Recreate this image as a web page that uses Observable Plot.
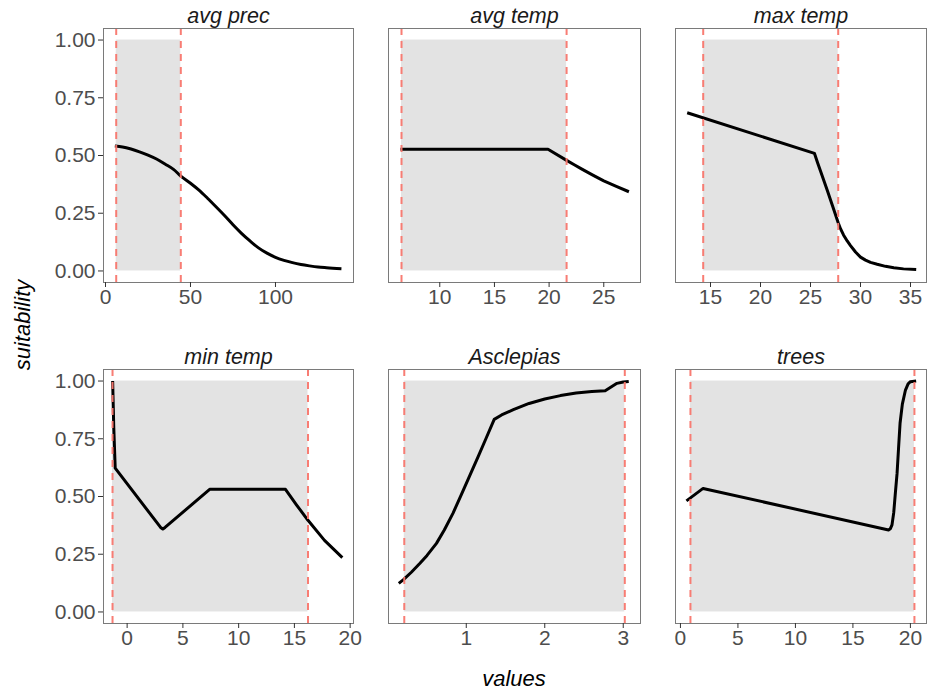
<!DOCTYPE html>
<html>
<head>
<meta charset="utf-8">
<script src="https://cdn.jsdelivr.net/npm/d3@7"></script>
<script src="https://cdn.jsdelivr.net/npm/@observablehq/plot@0.6"></script>
<style>
  html, body { margin: 0; padding: 0; background: #fff; }
  #root { position: relative; width: 927px; height: 696px; overflow: hidden; background: #fff;
          font-family: "Liberation Sans", Arial, Helvetica, sans-serif; }
  .panel { position: absolute; }
  .panel svg { overflow: visible; max-width: none !important; }
  .axtitle { position: absolute; font-style: italic; font-size: 22px; line-height: 22px; color: #000; white-space: nowrap; }
</style>
</head>
<body>
<div id="root"></div>
<script>
// ---------------- data ----------------
const panelTitles = ["avg prec", "avg temp", "max temp", "min temp", "Asclepias", "trees"];

const avgPrecX = [5.5, 10, 15, 20, 25, 30, 35, 40, 44.3, 50, 55, 60, 65, 70, 75, 80, 85, 90, 95, 100, 105, 110, 115, 120, 125, 130, 138.8];
const avgPrecY = [0.541, 0.537, 0.528, 0.516, 0.502, 0.485, 0.463, 0.44, 0.411, 0.38, 0.35, 0.315, 0.278, 0.24, 0.2, 0.163, 0.13, 0.1, 0.077, 0.059, 0.046, 0.036, 0.028, 0.022, 0.017, 0.014, 0.01];

const avgTempX = [6.4, 19.9, 21.6, 22.3, 23, 24, 25, 26.2, 27.3];
const avgTempY = [0.527, 0.527, 0.479, 0.46, 0.441, 0.415, 0.39, 0.365, 0.343];

const maxTempX = [12.67, 25.4, 25.7, 26.0, 26.7, 27.2, 27.77, 28.0, 28.3, 28.67, 29, 29.5, 30, 30.5, 31, 31.67, 32.5, 33.33, 34.3, 35.57];
const maxTempY = [0.685, 0.509, 0.47, 0.433, 0.346, 0.282, 0.209, 0.183, 0.156, 0.13, 0.11, 0.082, 0.06, 0.047, 0.037, 0.029, 0.02, 0.014, 0.009, 0.006];

const minTempX = [-1.3, -1.2, -1.07, 3.0, 3.2, 3.4, 7.4, 14.2, 15.2, 16.2, 17.7, 19.3];
const minTempY = [1.0, 0.8, 0.623, 0.366, 0.359, 0.366, 0.531, 0.531, 0.463, 0.398, 0.31, 0.235];

const asclepiasX = [0.14, 0.2, 0.3, 0.41, 0.5, 0.62, 0.72, 0.83, 0.94, 1.05, 1.15, 1.25, 1.356, 1.45, 1.6, 1.8, 2.0, 2.2, 2.4, 2.6, 2.77, 2.85, 2.92, 3.0, 3.07];
const asclepiasY = [0.124, 0.14, 0.172, 0.211, 0.245, 0.297, 0.355, 0.427, 0.51, 0.595, 0.672, 0.75, 0.834, 0.853, 0.876, 0.903, 0.922, 0.937, 0.948, 0.955, 0.958, 0.975, 0.99, 0.996, 0.998];

const treesX = [0.52, 1.97, 18.1, 18.25, 18.4, 18.55, 18.7, 18.84, 18.97, 19.1, 19.3, 19.57, 19.8, 20.0, 20.5];
const treesY = [0.481, 0.535, 0.355, 0.36, 0.377, 0.43, 0.52, 0.60, 0.71, 0.817, 0.9, 0.961, 0.988, 0.997, 1.0];

// suitable range bounds (dashed lines / shaded band)
const avgPrecBounds = [6.3, 44.3];
const avgTempBounds = [6.5, 21.6];
const maxTempBounds = [14.27, 27.77];
const minTempBounds = [-1.31, 16.22];
const asclepiasBounds = [0.21, 3.02];
const treesBounds = [0.87, 20.35];

// tick labels
const avgPrecTicks = [0, 50, 100];
const avgTempTicks = [10, 15, 20, 25];
const maxTempTicks = [15, 20, 25, 30, 35];
const minTempTicks = [0, 5, 10, 15, 20];
const asclepiasTicks = [1, 2, 3];
const treesTicks = [0, 5, 10, 15, 20];
const yTicks = [0, 0.25, 0.5, 0.75, 1];

// ---------------- layout ----------------
const seriesX = [avgPrecX, avgTempX, maxTempX, minTempX, asclepiasX, treesX];
const seriesY = [avgPrecY, avgTempY, maxTempY, minTempY, asclepiasY, treesY];
const bounds = [avgPrecBounds, avgTempBounds, maxTempBounds, minTempBounds, asclepiasBounds, treesBounds];
const ticks = [avgPrecTicks, avgTempTicks, maxTempTicks, minTempTicks, asclepiasTicks, treesTicks];
const xDomains = [[-1.18, 145.9], [5.31, 28.36], [11.5, 36.6], [-2.12, 20.3], [0.009, 3.22], [-0.43, 21.4]];
const curves = ["monotone-x", "linear", "linear", "linear", "linear", "linear"];

const colLeft = [103, 388, 675];
const colWidth = [250, 252, 251];
const rowTop = [28, 369];
const frameH = 254;

const root = document.getElementById("root");

for (let i = 0; i < 6; i++) {
  const col = i % 3, row = Math.floor(i / 3);
  const mL = col === 0 ? 105 : 15, mR = 15, mT = 30, mB = 40;
  const fw = colWidth[col];
  const pts = seriesX[i].map((x, k) => ({x, y: seriesY[i][k]}));
  const [lo, hi] = bounds[i];
  const marks = [
    Plot.rect([{lo, hi}], {x1: "lo", x2: "hi", y1: 0, y2: 1, fill: "#e3e3e3"}),
    Plot.line(pts, {x: "x", y: "y", curve: curves[i], stroke: "#000", strokeWidth: 3, strokeLinejoin: "round", strokeLinecap: "butt"}),
    Plot.ruleX([lo, hi], {stroke: "#F8766D", strokeWidth: 2, strokeDasharray: "7,6", strokeOpacity: 0.95}),
    Plot.frame({stroke: "#7a7a7a", strokeWidth: 1}),
    Plot.axisX({ticks: ticks[i], tickSize: 5, tickPadding: 1.5, fontSize: 21, stroke: "#333", fill: "#4d4d4d",
      tickFormat: d3.format("~g"), label: null}),
    Plot.text([panelTitles[i]], {frameAnchor: "top", lineAnchor: "bottom", dy: -6, fontSize: 21.5, fontStyle: "italic", fill: "#1a1a1a"})
  ];
  if (col === 0) {
    marks.push(Plot.axisY({ticks: yTicks, tickSize: 5, tickPadding: 3, fontSize: 21, stroke: "#333", fill: "#4d4d4d",
      tickFormat: d3.format(".2f"), label: null}));
  }
  const chart = Plot.plot({
    width: mL + fw + mR,
    height: mT + frameH + mB,
    marginLeft: mL, marginRight: mR, marginTop: mT, marginBottom: mB,
    x: {domain: xDomains[i]},
    y: {domain: [-0.05, 1.05], axis: col === 0 ? undefined : null},
    style: {fontFamily: "'Liberation Sans', Arial, Helvetica, sans-serif", background: "transparent", overflow: "visible", maxWidth: "none"},
    marks
  });
  const wrap = document.createElement("div");
  wrap.className = "panel";
  wrap.style.left = (colLeft[col] - mL) + "px";
  wrap.style.top = (rowTop[row] - mT) + "px";
  wrap.style.width = (mL + fw + mR) + "px";
  wrap.appendChild(chart);
  root.appendChild(wrap);
}

const xt = document.createElement("div");
xt.className = "axtitle";
xt.textContent = "values";
xt.style.left = "514px";
xt.style.top = "668px";
xt.style.transform = "translateX(-50%)";
root.appendChild(xt);

const yt = document.createElement("div");
yt.className = "axtitle";
yt.textContent = "suitability";
yt.style.left = "23px";
yt.style.top = "325px";
yt.style.transform = "translate(-50%, -50%) rotate(-90deg)";
root.appendChild(yt);
</script>
</body>
</html>
